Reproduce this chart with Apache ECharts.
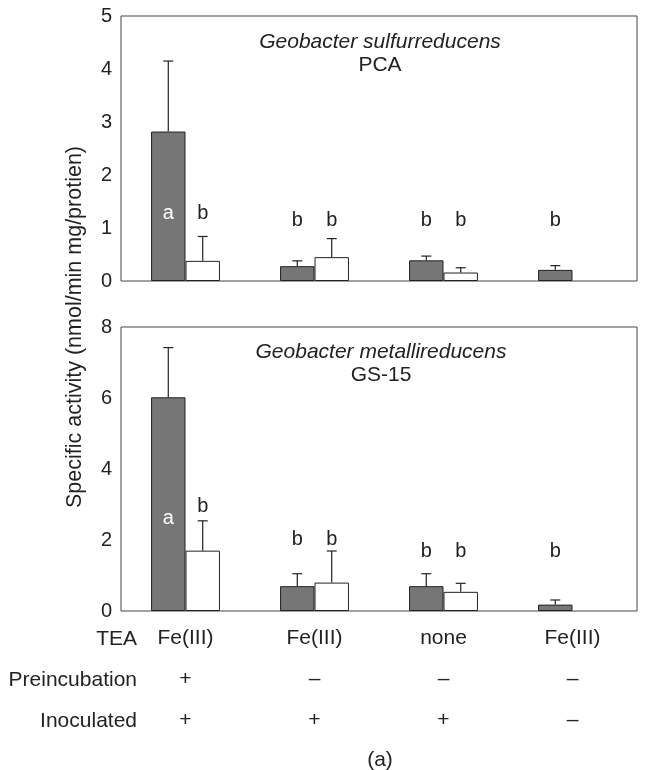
<!DOCTYPE html>
<html>
<head>
<meta charset="utf-8">
<script src="https://cdn.jsdelivr.net/npm/echarts@6/dist/echarts.min.js"></script>
<style>
  html, body { margin: 0; padding: 0; background: #fff; }
  #chart { width: 646px; height: 770px; }
</style>
</head>
<body>
<div id="chart"></div>
<script>
// Treatment conditions (one per bar group)
const tea = ['Fe(III)', 'Fe(III)', 'none', 'Fe(III)'];
const preincubation = ['+', '\u2013', '\u2013', '\u2013'];
const inoculated = ['+', '+', '+', '\u2013'];

// Geobacter sulfurreducens PCA: mean and mean + SD
const pcaDark = [2.82, 0.28, 0.39, 0.21];
const pcaDarkErr = [4.15, 0.38, 0.47, 0.29];
const pcaWhite = [0.38, 0.45, 0.16, null];
const pcaWhiteErr = [0.84, 0.80, 0.25, null];

// Geobacter metallireducens GS-15: mean and mean + SD
const gsDark = [6.02, 0.70, 0.70, 0.18];
const gsDarkErr = [7.42, 1.05, 1.05, 0.31];
const gsWhite = [1.70, 0.80, 0.54, null];
const gsWhiteErr = [2.54, 1.69, 0.78, null];

// Significance letters and the height (in axis units) they sit at
const pcaLettersDark = ['a', 'b', 'b', 'b'];
const pcaLettersWhite = ['b', 'b', 'b', ''];
const pcaLetterYDark = [1.28, 1.15, 1.15, 1.15];
const pcaLetterYWhite = [1.28, 1.15, 1.15, null];
const gsLettersDark = ['a', 'b', 'b', 'b'];
const gsLettersWhite = ['b', 'b', 'b', ''];
const gsLetterYDark = [2.62, 2.02, 1.67, 1.67];
const gsLetterYWhite = [2.94, 2.02, 1.67, null];

const FONT = '"Liberation Sans", Arial, Helvetica, sans-serif';
const TXT = '#222';
const BAR_FRAC = 0.267;

function errData(dark, darkErr, white, whiteErr) {
  const out = [];
  dark.forEach((v, i) => { if (v != null) out.push([i, v, darkErr[i], -1]); });
  white.forEach((v, i) => { if (v != null) out.push([i, v, whiteErr[i], 1]); });
  return out;
}

function letterData(yDark, lDark, yWhite, lWhite) {
  const pts = [], txt = [];
  yDark.forEach((y, i) => { if (y != null && lDark[i]) { pts.push([i, y, -1]); txt.push(lDark[i]); } });
  yWhite.forEach((y, i) => { if (y != null && lWhite[i]) { pts.push([i, y, 1]); txt.push(lWhite[i]); } });
  return { pts, txt };
}

function errorSeries(axisIdx, data) {
  return {
    type: 'custom', xAxisIndex: axisIdx, yAxisIndex: axisIdx, z: 3, silent: true,
    data: data,
    renderItem: function (params, api) {
      const bw = api.size([1, 0])[0] * BAR_FRAC;
      const x = api.coord([api.value(0), 0])[0] + api.value(3) * bw / 2;
      const y1 = api.coord([api.value(0), api.value(1)])[1];
      const y2 = api.coord([api.value(0), api.value(2)])[1];
      const st = { stroke: '#222', lineWidth: 1.2 };
      return {
        type: 'group', children: [
          { type: 'line', shape: { x1: x, y1: y1, x2: x, y2: y2 }, style: st },
          { type: 'line', shape: { x1: x - 5, y1: y2, x2: x + 5, y2: y2 }, style: st }
        ]
      };
    }
  };
}

function letterSeries(axisIdx, ld) {
  return {
    type: 'custom', xAxisIndex: axisIdx, yAxisIndex: axisIdx, z: 4, silent: true,
    data: ld.pts,
    renderItem: function (params, api) {
      const bw = api.size([1, 0])[0] * BAR_FRAC;
      const side = api.value(2);
      const x = api.coord([api.value(0), 0])[0] + side * bw / 2;
      const y = api.coord([api.value(0), api.value(1)])[1];
      const t = ld.txt[params.dataIndex];
      return {
        type: 'text',
        style: {
          text: t, x: x, y: y, textAlign: 'center', textVerticalAlign: 'middle',
          fill: (t === 'a') ? '#fff' : TXT, font: '20px ' + FONT
        }
      };
    }
  };
}

function barSeries(axisIdx, data, fill) {
  return {
    type: 'bar', xAxisIndex: axisIdx, yAxisIndex: axisIdx, data: data,
    barWidth: (BAR_FRAC * 100) + '%', barGap: '0%', silent: true,
    itemStyle: { color: fill, borderColor: '#222', borderWidth: 1 }
  };
}

const yLabel = { fontSize: 20, color: TXT, fontFamily: FONT, margin: 9 };

const option = {
  animation: false,
  backgroundColor: '#fff',
  grid: [
    { left: 121, right: 9, top: 16, height: 265, show: true, borderColor: '#444', borderWidth: 1 },
    { left: 121, right: 9, top: 327, height: 284, show: true, borderColor: '#444', borderWidth: 1 }
  ],
  xAxis: [
    { type: 'category', gridIndex: 0, data: tea, axisLine: { show: false }, axisTick: { show: false }, axisLabel: { show: false } },
    {
      type: 'category', gridIndex: 1, data: tea, axisLine: { show: false }, axisTick: { show: false },
      axisLabel: {
        fontSize: 21, color: TXT, fontFamily: FONT, lineHeight: 41, margin: 7,
        formatter: function (v, i) { return tea[i] + '\n' + preincubation[i] + '\n' + inoculated[i]; }
      }
    }
  ],
  yAxis: [
    { type: 'value', gridIndex: 0, min: 0, max: 5, interval: 1, splitLine: { show: false }, axisLine: { show: false }, axisTick: { show: false }, axisLabel: yLabel },
    { type: 'value', gridIndex: 1, min: 0, max: 8, interval: 2, splitLine: { show: false }, axisLine: { show: false }, axisTick: { show: false }, axisLabel: yLabel }
  ],
  series: [
    barSeries(0, pcaDark, '#767676'),
    barSeries(0, pcaWhite, '#ffffff'),
    errorSeries(0, errData(pcaDark, pcaDarkErr, pcaWhite, pcaWhiteErr)),
    letterSeries(0, letterData(pcaLetterYDark, pcaLettersDark, pcaLetterYWhite, pcaLettersWhite)),
    barSeries(1, gsDark, '#767676'),
    barSeries(1, gsWhite, '#ffffff'),
    errorSeries(1, errData(gsDark, gsDarkErr, gsWhite, gsWhiteErr)),
    letterSeries(1, letterData(gsLetterYDark, gsLettersDark, gsLetterYWhite, gsLettersWhite))
  ],
  graphic: [
    { type: 'text', style: { text: 'Geobacter sulfurreducens', x: 380, y: 42, textAlign: 'center', textVerticalAlign: 'middle', font: 'italic 21px ' + FONT, fill: TXT } },
    { type: 'text', style: { text: 'PCA', x: 380, y: 65, textAlign: 'center', textVerticalAlign: 'middle', font: '21px ' + FONT, fill: TXT } },
    { type: 'text', style: { text: 'Geobacter metallireducens', x: 381, y: 352, textAlign: 'center', textVerticalAlign: 'middle', font: 'italic 21px ' + FONT, fill: TXT } },
    { type: 'text', style: { text: 'GS-15', x: 381, y: 375, textAlign: 'center', textVerticalAlign: 'middle', font: '21px ' + FONT, fill: TXT } },
    { type: 'text', x: 75, y: 327, rotation: Math.PI / 2, style: { text: 'Specific activity (nmol/min mg/protien)', x: 0, y: 0, textAlign: 'center', textVerticalAlign: 'middle', font: '21.5px ' + FONT, fill: TXT } },
    { type: 'text', style: { text: 'TEA', x: 137, y: 639, textAlign: 'right', textVerticalAlign: 'middle', font: '21px ' + FONT, fill: TXT } },
    { type: 'text', style: { text: 'Preincubation', x: 137, y: 680, textAlign: 'right', textVerticalAlign: 'middle', font: '21px ' + FONT, fill: TXT } },
    { type: 'text', style: { text: 'Inoculated', x: 137, y: 721, textAlign: 'right', textVerticalAlign: 'middle', font: '21px ' + FONT, fill: TXT } },
    { type: 'text', style: { text: '(a)', x: 380, y: 760, textAlign: 'center', textVerticalAlign: 'middle', font: '21px ' + FONT, fill: TXT } }
  ]
};

echarts.init(document.getElementById('chart'), null, { renderer: 'canvas' }).setOption(option);
</script>
</body>
</html>
